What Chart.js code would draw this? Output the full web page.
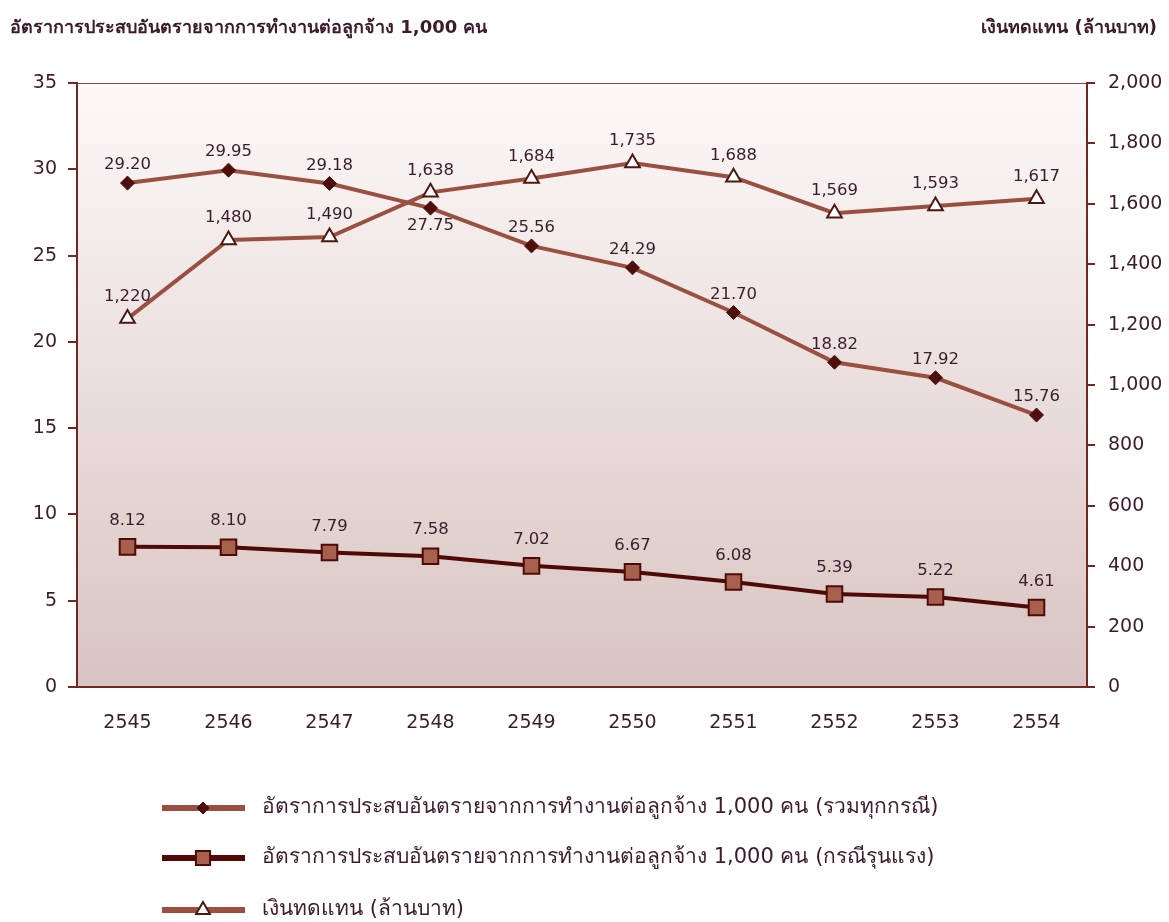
<!DOCTYPE html>
<html><head><meta charset="utf-8">
<script src="https://cdn.jsdelivr.net/npm/chart.js@4/dist/chart.umd.min.js"></script>
<style>html,body{margin:0;padding:0;background:#fff}#wrap{position:relative;width:1169px;height:922px}</style>
</head><body><div id="wrap"><canvas id="c" width="1169" height="922"></canvas></div>
<script>
// ---- data ----
const years = ['2545','2546','2547','2548','2549','2550','2551','2552','2553','2554'];
const rateAll = [29.20, 29.95, 29.18, 27.75, 25.56, 24.29, 21.70, 18.82, 17.92, 15.76];
const rateSevere = [8.12, 8.10, 7.79, 7.58, 7.02, 6.67, 6.08, 5.39, 5.22, 4.61];
const compensation = [1220, 1480, 1490, 1638, 1684, 1735, 1688, 1569, 1593, 1617];
const leftTitle = 'อัตราการประสบอันตรายจากการทำงานต่อลูกจ้าง 1,000 คน';
const rightTitle = 'เงินทดแทน (ล้านบาท)';
const nameAll = 'อัตราการประสบอันตรายจากการทำงานต่อลูกจ้าง 1,000 คน (รวมทุกกรณี)';
const nameSevere = 'อัตราการประสบอันตรายจากการทำงานต่อลูกจ้าง 1,000 คน (กรณีรุนแรง)';
const nameComp = 'เงินทดแทน (ล้านบาท)';

const AXIS = '#6e2a22';
const TXT = '#3a1c2c';
const LINE_LIGHT = '#9a5040';
const LINE_DARK = '#4f0a06';
const SQ_FILL = '#a5614e';
const FONT = '"DejaVu Sans", Tahoma, sans-serif';

const fmt2 = v => v.toFixed(2);
const fmtK = v => v.toLocaleString('en-US');

const bgPlugin = {
  id: 'bg',
  beforeDraw(chart) {
    const {ctx, chartArea: a} = chart;
    const g = ctx.createLinearGradient(0, a.top, 0, a.bottom);
    g.addColorStop(0, '#fcf9f8');
    g.addColorStop(1, '#d8c4c2');
    ctx.save();
    ctx.fillStyle = g;
    ctx.fillRect(a.left, a.top, a.right - a.left, a.bottom - a.top);
    ctx.strokeStyle = '#8a4a40';
    ctx.lineWidth = 1;
    ctx.beginPath();
    ctx.moveTo(a.left, a.top + 0.5);
    ctx.lineTo(a.right, a.top + 0.5);
    ctx.stroke();
    ctx.restore();
  }
};

const labelPlugin = {
  id: 'valueLabels',
  afterDatasetsDraw(chart) {
    const ctx = chart.ctx;
    ctx.save();
    ctx.font = '16.5px ' + FONT;
    ctx.fillStyle = TXT;
    ctx.textAlign = 'center';
    ctx.textBaseline = 'middle';
    chart.data.datasets.forEach((ds, i) => {
      const meta = chart.getDatasetMeta(i);
      meta.data.forEach((pt, j) => {
        const v = ds.data[j];
        const txt = ds.fmt(v);
        const below = ds.below && ds.below.includes(j);
        ctx.fillText(txt, pt.x, below ? pt.y + ds.offBelow : pt.y - ds.offAbove);
      });
    });
    ctx.restore();
  }
};

const decorPlugin = {
  id: 'decor',
  afterDraw(chart) {
    const ctx = chart.ctx;
    ctx.save();
    // titles
    ctx.fillStyle = TXT;
    ctx.font = 'bold 18px ' + FONT;
    ctx.textBaseline = 'middle';
    ctx.textAlign = 'left';
    ctx.fillText(leftTitle, 10, 28);
    ctx.textAlign = 'right';
    ctx.fillText(rightTitle, 1157, 28);
    // legend
    const items = [
      {name: nameAll, line: LINE_LIGHT, style: 'rectRot', r: 6, fill: '#4d0f0b', stroke: '#4d0f0b', bw: 1},
      {name: nameSevere, line: LINE_DARK, style: 'rect', r: 10, fill: SQ_FILL, stroke: LINE_DARK, bw: 2},
      {name: nameComp, line: LINE_LIGHT, style: 'triangle', r: 8, fill: '#ffffff', stroke: '#4a1a12', bw: 2}
    ];
    const ys = [808, 858, 910];
    items.forEach((it, k) => {
      const y = ys[k];
      ctx.strokeStyle = it.line;
      ctx.lineWidth = 6;
      ctx.beginPath();
      ctx.moveTo(162, y);
      ctx.lineTo(245, y);
      ctx.stroke();
      ctx.fillStyle = it.fill;
      ctx.strokeStyle = it.stroke;
      ctx.lineWidth = it.bw;
      Chart.helpers.drawPoint(ctx, {pointStyle: it.style, radius: it.r, rotation: 0, borderWidth: it.bw}, 203, y);
      ctx.fillStyle = TXT;
      ctx.font = '21px ' + FONT;
      ctx.textAlign = 'left';
      ctx.textBaseline = 'middle';
      ctx.fillText(it.name, 262, y);
    });
    ctx.restore();
  }
};

new Chart(document.getElementById('c'), {
  type: 'line',
  data: {
    labels: years,
    datasets: [
      {
        label: nameAll, data: rateAll, yAxisID: 'y',
        borderColor: LINE_LIGHT, borderWidth: 4,
        pointStyle: 'rectRot', pointRadius: 7, pointBackgroundColor: '#4d0f0b', pointBorderColor: '#4d0f0b', pointBorderWidth: 1,
        fmt: fmt2, offAbove: 18, offBelow: 18, below: [3], order: 2
      },
      {
        label: nameSevere, data: rateSevere, yAxisID: 'y',
        borderColor: LINE_DARK, borderWidth: 4,
        pointStyle: 'rect', pointRadius: 11, pointBackgroundColor: SQ_FILL, pointBorderColor: LINE_DARK, pointBorderWidth: 2,
        fmt: fmt2, offAbove: 26, order: 3
      },
      {
        label: nameComp, data: compensation, yAxisID: 'y1',
        borderColor: LINE_LIGHT, borderWidth: 4,
        pointStyle: 'triangle', pointRadius: 8.5, pointBackgroundColor: '#ffffff', pointBorderColor: '#4a1a12', pointBorderWidth: 2,
        fmt: fmtK, offAbove: 22, order: 1
      }
    ]
  },
  options: {
    responsive: false,
    devicePixelRatio: 1,
    animation: false,
    layout: {padding: {top: 83, left: 0, right: 0, bottom: 0}},
    plugins: {legend: {display: false}, tooltip: {enabled: false}},
    scales: {
      x: {
        offset: true,
        grid: {drawOnChartArea: false, drawTicks: false},
        border: {display: true, color: AXIS, width: 2},
        ticks: {color: TXT, font: {family: FONT, size: 19}, padding: 25, maxRotation: 0},
        afterFit(s) { s.height = 235; }
      },
      y: {
        position: 'left', min: 0, max: 35,
        grid: {drawOnChartArea: false, drawTicks: true, tickLength: 9, color: AXIS, lineWidth: 2},
        border: {display: true, color: AXIS, width: 2},
        ticks: {stepSize: 5, color: TXT, font: {family: FONT, size: 19}, padding: 11},
        afterFit(s) { s.width = 77; }
      },
      y1: {
        position: 'right', min: 0, max: 2000,
        grid: {drawOnChartArea: false, drawTicks: true, tickLength: 8, color: AXIS, lineWidth: 2},
        border: {display: true, color: AXIS, width: 2},
        ticks: {stepSize: 200, color: TXT, font: {family: FONT, size: 19}, padding: 13,
          callback: v => fmtK(v)},
        afterFit(s) { s.width = 82; }
      }
    }
  },
  plugins: [bgPlugin, labelPlugin, decorPlugin]
});
</script>
</body></html>
